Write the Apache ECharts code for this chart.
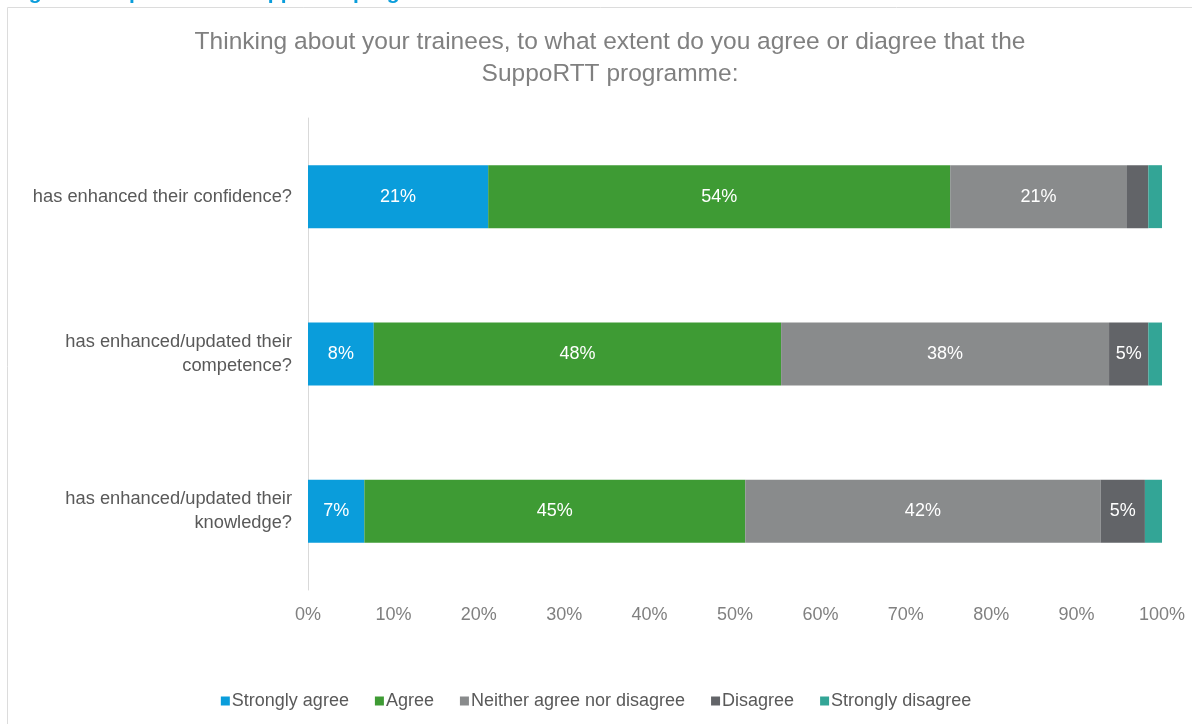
<!DOCTYPE html>
<html>
<head>
<meta charset="utf-8">
<script src="https://cdn.jsdelivr.net/npm/echarts@6/dist/echarts.min.js"></script>
<style>
html,body{margin:0;padding:0;background:#fff;}
#c{width:1192px;height:724px;}
</style>
</head>
<body>
<div id="c"></div>
<script>
const categories = [
  "has enhanced/updated their\nknowledge?",
  "has enhanced/updated their\ncompetence?",
  "has enhanced their confidence?"
];
const seriesNames = ["Strongly agree", "Agree", "Neither agree nor disagree", "Disagree", "Strongly disagree"];
const stronglyAgree = [6.6, 7.7, 21.1];
const agree = [44.6, 47.7, 54.1];
const neither = [41.6, 38.4, 20.7];
const disagree = [5.2, 4.6, 2.5];
const stronglyDisagree = [2.0, 1.6, 1.6];
const tickLabels = ["0%","10%","20%","30%","40%","50%","60%","70%","80%","90%","100%"];
const colors = ["#0a9ddb", "#3e9b34", "#898b8c", "#626468", "#33a596"];

const values = [stronglyAgree, agree, neither, disagree, stronglyDisagree];
const font = "Liberation Sans, Arial, sans-serif";

const chart = echarts.init(document.getElementById('c'), null, {renderer: 'canvas'});
chart.setOption({
  animation: false,
  textStyle: {fontFamily: font},
  title: {
    text: "Thinking about your trainees, to what extent do you agree or diagree that the\nSuppoRTT programme:",
    left: 605, top: 21, textAlign: 'center',
    textStyle: {fontSize: 24.5, fontWeight: 'normal', color: '#808080', lineHeight: 32, fontFamily: font}
  },
  graphic: [
    {type: 'rect', shape: {x: 7.5, y: 7.5, width: 1200, height: 730}, style: {fill: 'none', stroke: '#dcdcdc', lineWidth: 1}, silent: true},
    {type: 'text', left: 10, top: -17, style: {text: "Figure 9: Impact of the SuppoRTT programme on trainees", fontSize: 21, fontWeight: 'bold', fill: '#0a9ddb', fontFamily: font}, silent: true}
  ],
  legend: {
    bottom: 9, left: 'center',
    itemWidth: 9, itemHeight: 9, itemGap: 26,
    icon: 'rect',
    textStyle: {fontSize: 18, color: '#595959', padding: [0,0,0,-3]},
    data: seriesNames
  },
  grid: {left: 308, right: 30, top: 118, bottom: 134, containLabel: false},
  xAxis: {
    type: 'value', min: 0, max: 100, interval: 10,
    axisLine: {show: false}, axisTick: {show: false},
    splitLine: {show: false},
    axisLabel: {formatter: v => tickLabels[Math.round(v/10)], fontSize: 18, color: '#808080', margin: 16}
  },
  yAxis: {
    type: 'category', data: categories,
    axisLine: {show: true, lineStyle: {color: '#d9d9d9'}},
    axisTick: {show: false},
    axisLabel: {fontSize: 18.3, color: '#595959', margin: 16, lineHeight: 24, align: 'right'}
  },
  series: seriesNames.map((n, i) => ({
    name: n, type: 'bar', stack: 'total',
    barCategoryGap: '60%',
    itemStyle: {color: colors[i]},
    label: {
      show: true, position: 'inside', color: '#ffffff', fontSize: 18,
      formatter: p => p.value >= 4 ? Math.round(p.value) + '%' : ''
    },
    data: values[i]
  }))
});
</script>
</body>
</html>
